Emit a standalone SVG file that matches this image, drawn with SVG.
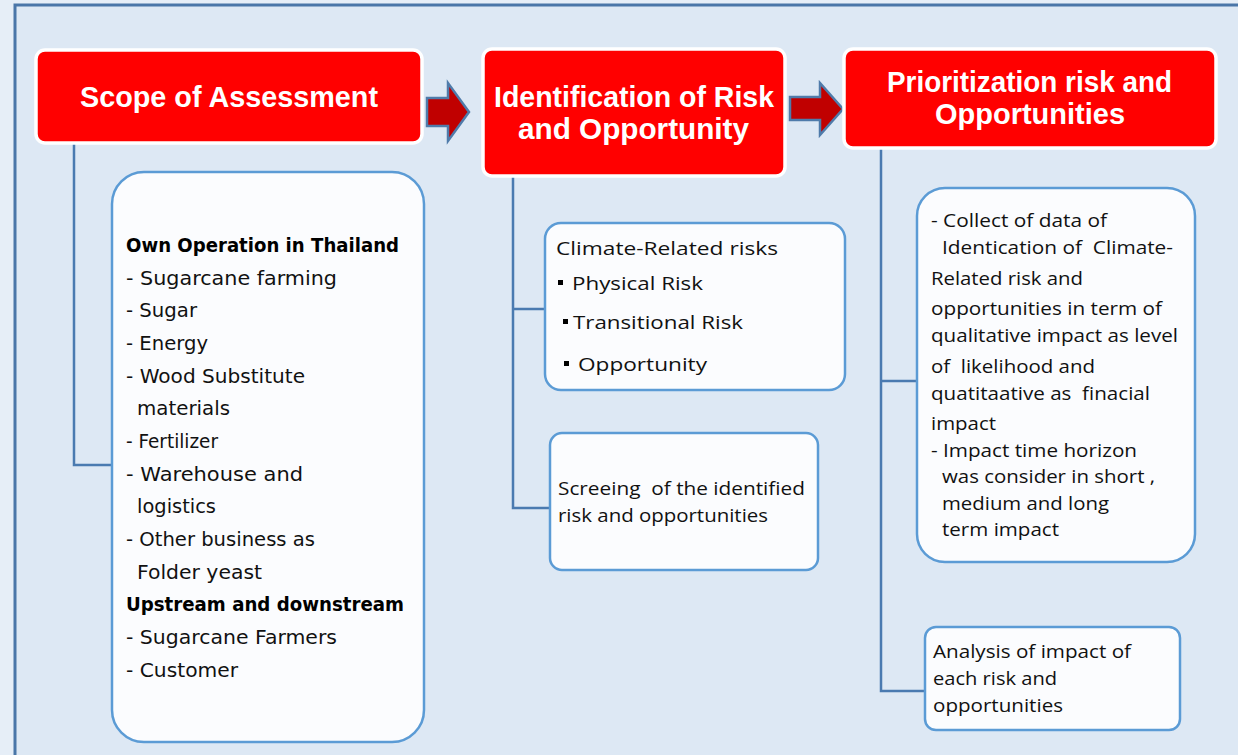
<svg xmlns="http://www.w3.org/2000/svg" width="1238" height="755" viewBox="0 0 1238 755">
  <style>
    .head { fill: #FF0000; stroke: #FFFFFF; stroke-width: 3.5; }
    .card { fill: #FBFCFE; stroke: #5B9BD5; stroke-width: 2.5; }
    .arrow { fill: #C00000; stroke: #4F7BAA; stroke-width: 2.5; stroke-linejoin: miter; }
    .link { fill: none; stroke: #4A7AB0; stroke-width: 2.5; }
    .title { font-family: "Liberation Sans", Arial, sans-serif; font-weight: bold; font-size: 30px; fill: #FFFFFF; }
    .gothic { font-family: "DejaVu Sans", sans-serif; font-size: 20px; fill: #111111; }
    .gothic-b { font-family: "DejaVu Sans", sans-serif; font-weight: bold; font-size: 20px; fill: #000000; }
    .body { font-family: "Open Sans", "Noto Sans", sans-serif; font-size: 18.5px; fill: #111111; white-space: pre; }
    .dot { fill: #000000; }
  </style>

  <!-- page and frame -->
  <rect x="0" y="0" width="1238" height="755" fill="#E6EEF7"/>
  <rect x="15" y="5" width="1240" height="770" fill="#DDE8F4" stroke="#4A76A8" stroke-width="3"/>

  <!-- connectors -->
  <g id="connectors">
    <path class="link" d="M74,143 V465 H112"/>
    <path class="link" d="M513,177 V508 H550 M513,309 H545"/>
    <path class="link" d="M881,148 V691 H925 M881,381 H917"/>
    <path class="arrow" d="M427,98 H448 V83 L469,112 L448,141 V126 H427 Z"/>
    <path class="arrow" d="M790,97 H820 V83 L843,109 L820,135 V120 H790 Z"/>
  </g>

  <!-- stage 1 -->
  <g id="scope">
    <rect class="head" x="36" y="50" width="386" height="93" rx="9"/>
    <text class="title" x="80" y="107" textLength="298" lengthAdjust="spacingAndGlyphs">Scope of Assessment</text>
  </g>

  <g id="scope-details">
    <rect class="card" x="112" y="172" width="312" height="570" rx="32"/>
    <text class="gothic-b" x="126" y="252" textLength="273" lengthAdjust="spacingAndGlyphs">Own Operation in Thailand</text>
    <text class="gothic" x="126" y="285" textLength="211" lengthAdjust="spacingAndGlyphs">- Sugarcane farming</text>
    <text class="gothic" x="126" y="317" textLength="71" lengthAdjust="spacingAndGlyphs">- Sugar</text>
    <text class="gothic" x="126" y="350" textLength="82" lengthAdjust="spacingAndGlyphs">- Energy</text>
    <text class="gothic" x="126" y="383" textLength="179" lengthAdjust="spacingAndGlyphs">- Wood Substitute</text>
    <text class="gothic" x="137" y="415" textLength="93" lengthAdjust="spacingAndGlyphs">materials</text>
    <text class="gothic" x="126" y="448" textLength="92" lengthAdjust="spacingAndGlyphs">- Fertilizer</text>
    <text class="gothic" x="126" y="481" textLength="177" lengthAdjust="spacingAndGlyphs">- Warehouse and</text>
    <text class="gothic" x="137" y="513" textLength="79" lengthAdjust="spacingAndGlyphs">logistics</text>
    <text class="gothic" x="126" y="546" textLength="189" lengthAdjust="spacingAndGlyphs">- Other business as</text>
    <text class="gothic" x="137" y="579" textLength="125" lengthAdjust="spacingAndGlyphs">Folder yeast</text>
    <text class="gothic-b" x="126" y="611" textLength="278" lengthAdjust="spacingAndGlyphs">Upstream and downstream</text>
    <text class="gothic" x="126" y="644" textLength="211" lengthAdjust="spacingAndGlyphs">- Sugarcane Farmers</text>
    <text class="gothic" x="126" y="677" textLength="112" lengthAdjust="spacingAndGlyphs">- Customer</text>
  </g>

  <!-- stage 2 -->
  <g id="identification">
    <rect class="head" x="483" y="49" width="302" height="127" rx="9"/>
    <text class="title" x="494" y="107" textLength="280" lengthAdjust="spacingAndGlyphs">Identification of Risk</text>
    <text class="title" x="518" y="139" textLength="231" lengthAdjust="spacingAndGlyphs">and Opportunity</text>
  </g>

  <g id="climate-risks">
    <rect class="card" x="545" y="223" width="300" height="167" rx="16"/>
    <text class="body" x="556" y="255" textLength="222" lengthAdjust="spacingAndGlyphs">Climate-Related risks</text>
    <rect class="dot" x="558" y="280" width="5" height="5"/>
    <text class="body" x="572" y="290" textLength="131" lengthAdjust="spacingAndGlyphs">Physical Risk</text>
    <rect class="dot" x="563" y="319" width="5" height="5"/>
    <text class="body" x="573" y="329" textLength="170" lengthAdjust="spacingAndGlyphs">Transitional Risk</text>
    <rect class="dot" x="564" y="361" width="5" height="5"/>
    <text class="body" x="578" y="371" textLength="129" lengthAdjust="spacingAndGlyphs">Opportunity</text>
  </g>

  <g id="screening">
    <rect class="card" x="550" y="433" width="268" height="137" rx="12"/>
    <text class="body" x="558" y="495" textLength="247" lengthAdjust="spacingAndGlyphs">Screeing  of the identified</text>
    <text class="body" x="558" y="522" textLength="210" lengthAdjust="spacingAndGlyphs">risk and opportunities</text>
  </g>

  <!-- stage 3 -->
  <g id="prioritization">
    <rect class="head" x="844" y="49" width="372" height="99" rx="9"/>
    <text class="title" x="887" y="92" textLength="285" lengthAdjust="spacingAndGlyphs">Prioritization risk and</text>
    <text class="title" x="935" y="124" textLength="190" lengthAdjust="spacingAndGlyphs">Opportunities</text>
  </g>

  <g id="data-collection">
    <rect class="card" x="917" y="188" width="278" height="374" rx="28"/>
    <text class="body" x="931" y="227" textLength="176" lengthAdjust="spacingAndGlyphs">- Collect of data of</text>
    <text class="body" x="942" y="254" textLength="231" lengthAdjust="spacingAndGlyphs">Identication of  Climate-</text>
    <text class="body" x="931" y="285" textLength="152" lengthAdjust="spacingAndGlyphs">Related risk and</text>
    <text class="body" x="931" y="315" textLength="231" lengthAdjust="spacingAndGlyphs">opportunities in term of</text>
    <text class="body" x="931" y="342" textLength="247" lengthAdjust="spacingAndGlyphs">qualitative impact as level</text>
    <text class="body" x="931" y="373" textLength="164" lengthAdjust="spacingAndGlyphs">of  likelihood and</text>
    <text class="body" x="931" y="400" textLength="219" lengthAdjust="spacingAndGlyphs">quatitaative as  finacial</text>
    <text class="body" x="931" y="430" textLength="65" lengthAdjust="spacingAndGlyphs">impact</text>
    <text class="body" x="931" y="457" textLength="206" lengthAdjust="spacingAndGlyphs">- Impact time horizon</text>
    <text class="body" x="942" y="483" textLength="213" lengthAdjust="spacingAndGlyphs">was consider in short ,</text>
    <text class="body" x="942" y="510" textLength="167" lengthAdjust="spacingAndGlyphs">medium and long</text>
    <text class="body" x="942" y="536" textLength="117" lengthAdjust="spacingAndGlyphs">term impact</text>
  </g>

  <g id="impact-analysis">
    <rect class="card" x="925" y="627" width="255" height="103" rx="11"/>
    <text class="body" x="933" y="658" textLength="198" lengthAdjust="spacingAndGlyphs">Analysis of impact of</text>
    <text class="body" x="933" y="685" textLength="124" lengthAdjust="spacingAndGlyphs">each risk and</text>
    <text class="body" x="933" y="712" textLength="130" lengthAdjust="spacingAndGlyphs">opportunities</text>
  </g>
</svg>
